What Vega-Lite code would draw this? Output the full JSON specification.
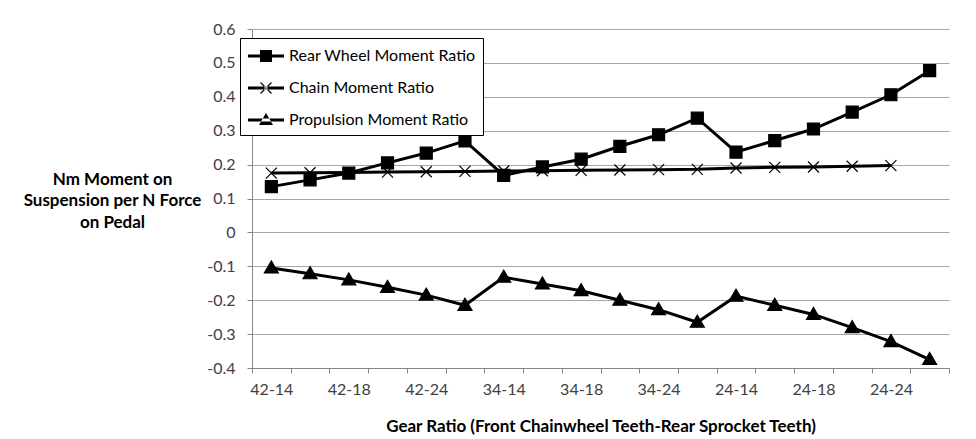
{
  "$schema": "https://vega.github.io/schema/vega-lite/v6.json",
  "width": 697,
  "height": 339,
  "autosize": {"type": "none"},
  "padding": {"left": 252, "top": 29, "right": 27, "bottom": 71},
  "background": "white",
  "config": {
    "font": "Lato",
    "view": {"stroke": null},
    "axis": {"labelFont": "Lato", "labelFontSize": 16, "labelColor": "#404040", "titleFont": "Lato", "titleFontSize": 17, "titleFontWeight": "bold", "titleColor": "#000000", "domainColor": "#868686", "tickColor": "#868686", "tickSize": 5, "gridColor": "#a6a6a6"}
  },
  "data": {"values": [
    {"gear": "42-14", "series": "Rear Wheel Moment Ratio", "value": 0.135},
    {"gear": "42-16", "series": "Rear Wheel Moment Ratio", "value": 0.155},
    {"gear": "42-18", "series": "Rear Wheel Moment Ratio", "value": 0.175},
    {"gear": "42-21", "series": "Rear Wheel Moment Ratio", "value": 0.205},
    {"gear": "42-24", "series": "Rear Wheel Moment Ratio", "value": 0.234},
    {"gear": "42-28", "series": "Rear Wheel Moment Ratio", "value": 0.270},
    {"gear": "34-14", "series": "Rear Wheel Moment Ratio", "value": 0.168},
    {"gear": "34-16", "series": "Rear Wheel Moment Ratio", "value": 0.193},
    {"gear": "34-18", "series": "Rear Wheel Moment Ratio", "value": 0.216},
    {"gear": "34-21", "series": "Rear Wheel Moment Ratio", "value": 0.254},
    {"gear": "34-24", "series": "Rear Wheel Moment Ratio", "value": 0.288},
    {"gear": "34-28", "series": "Rear Wheel Moment Ratio", "value": 0.337},
    {"gear": "24-14", "series": "Rear Wheel Moment Ratio", "value": 0.237},
    {"gear": "24-16", "series": "Rear Wheel Moment Ratio", "value": 0.271},
    {"gear": "24-18", "series": "Rear Wheel Moment Ratio", "value": 0.305},
    {"gear": "24-21", "series": "Rear Wheel Moment Ratio", "value": 0.355},
    {"gear": "24-24", "series": "Rear Wheel Moment Ratio", "value": 0.406},
    {"gear": "24-28", "series": "Rear Wheel Moment Ratio", "value": 0.477},
    {"gear": "42-14", "series": "Chain Moment Ratio", "value": 0.175},
    {"gear": "42-16", "series": "Chain Moment Ratio", "value": 0.176},
    {"gear": "42-18", "series": "Chain Moment Ratio", "value": 0.177},
    {"gear": "42-21", "series": "Chain Moment Ratio", "value": 0.178},
    {"gear": "42-24", "series": "Chain Moment Ratio", "value": 0.179},
    {"gear": "42-28", "series": "Chain Moment Ratio", "value": 0.180},
    {"gear": "34-14", "series": "Chain Moment Ratio", "value": 0.181},
    {"gear": "34-16", "series": "Chain Moment Ratio", "value": 0.182},
    {"gear": "34-18", "series": "Chain Moment Ratio", "value": 0.183},
    {"gear": "34-21", "series": "Chain Moment Ratio", "value": 0.184},
    {"gear": "34-24", "series": "Chain Moment Ratio", "value": 0.185},
    {"gear": "34-28", "series": "Chain Moment Ratio", "value": 0.186},
    {"gear": "24-14", "series": "Chain Moment Ratio", "value": 0.190},
    {"gear": "24-16", "series": "Chain Moment Ratio", "value": 0.192},
    {"gear": "24-18", "series": "Chain Moment Ratio", "value": 0.193},
    {"gear": "24-21", "series": "Chain Moment Ratio", "value": 0.195},
    {"gear": "24-24", "series": "Chain Moment Ratio", "value": 0.197},
    {"gear": "42-14", "series": "Propulsion Moment Ratio", "value": -0.105},
    {"gear": "42-16", "series": "Propulsion Moment Ratio", "value": -0.122},
    {"gear": "42-18", "series": "Propulsion Moment Ratio", "value": -0.140},
    {"gear": "42-21", "series": "Propulsion Moment Ratio", "value": -0.162},
    {"gear": "42-24", "series": "Propulsion Moment Ratio", "value": -0.185},
    {"gear": "42-28", "series": "Propulsion Moment Ratio", "value": -0.215},
    {"gear": "34-14", "series": "Propulsion Moment Ratio", "value": -0.132},
    {"gear": "34-16", "series": "Propulsion Moment Ratio", "value": -0.152},
    {"gear": "34-18", "series": "Propulsion Moment Ratio", "value": -0.172},
    {"gear": "34-21", "series": "Propulsion Moment Ratio", "value": -0.200},
    {"gear": "34-24", "series": "Propulsion Moment Ratio", "value": -0.228},
    {"gear": "34-28", "series": "Propulsion Moment Ratio", "value": -0.265},
    {"gear": "24-14", "series": "Propulsion Moment Ratio", "value": -0.188},
    {"gear": "24-16", "series": "Propulsion Moment Ratio", "value": -0.215},
    {"gear": "24-18", "series": "Propulsion Moment Ratio", "value": -0.242},
    {"gear": "24-21", "series": "Propulsion Moment Ratio", "value": -0.281},
    {"gear": "24-24", "series": "Propulsion Moment Ratio", "value": -0.322},
    {"gear": "24-28", "series": "Propulsion Moment Ratio", "value": -0.375}
  ]},
  "encoding": {
    "x": {
      "field": "gear", "type": "nominal",
      "sort": ["42-14","42-16","42-18","42-21","42-24","42-28","34-14","34-16","34-18","34-21","34-24","34-28","24-14","24-16","24-18","24-21","24-24","24-28"],
      "scale": {"type": "band", "paddingInner": 0, "paddingOuter": 0},
      "axis": {
        "title": "Gear Ratio (Front Chainwheel Teeth-Rear Sprocket Teeth)",
        "labelAngle": 0, "tickBand": "extent", "labelPadding": 8, "titlePadding": 21,
        "labelExpr": "indexof(['42-14','42-18','42-24','34-14','34-18','34-24','24-14','24-18','24-24'], datum.value) >= 0 ? datum.label : ''"
      }
    },
    "y": {
      "field": "value", "type": "quantitative",
      "scale": {"domain": [-0.4, 0.6], "nice": false, "zero": false},
      "axis": {
        "values": [-0.4, -0.3, -0.2, -0.1, 0, 0.1, 0.2, 0.3, 0.4, 0.5, 0.6],
        "labelExpr": "datum.value < -0.0001 ? '-' + format(-datum.value, '.1f') : (abs(datum.value) < 0.0001 ? '0' : format(datum.value, '.1f'))",
        "labelPadding": 12, "grid": true,
        "title": ["Nm Moment on", "Suspension per N Force", "on Pedal"],
        "titleAngle": 0, "titleAlign": "center", "titleBaseline": "middle",
        "titleX": -140, "titleY": 150, "titleLineHeight": 21.5
      }
    }
  },
  "layer": [
    {
      "mark": {"type": "line", "color": "black", "strokeWidth": 3},
      "encoding": {"detail": {"field": "series"}}
    },
    {
      "mark": {"type": "point", "filled": true, "color": "black", "stroke": "black", "strokeWidth": 1.2, "opacity": 1, "size": 400},
      "encoding": {
        "shape": {
          "field": "series", "type": "nominal",
          "scale": {"domain": ["Rear Wheel Moment Ratio", "Chain Moment Ratio", "Propulsion Moment Ratio"],
            "range": ["M-0.6,-0.6H0.6V0.6H-0.6Z", "M-0.55,-0.55L0.55,0.55M-0.55,0.55L0.55,-0.55", "M-0.7,0.5L0.7,0.5L0,-0.7Z"]},
          "legend": null
        }
      }
    },
    {
      "mark": {"type": "point", "filled": true, "color": "black", "opacity": 0, "size": 400},
      "encoding": {
        "shape": {
          "field": "series", "type": "nominal",
          "scale": {"domain": ["Rear Wheel Moment Ratio", "Chain Moment Ratio", "Propulsion Moment Ratio"],
            "range": [
              "M-1,-0.15H2.6V0.15H-1Z M0.2,-0.6H1.4V0.6H0.2Z",
              "M-1,-0.15H2.6V0.15H-1Z M0.208,-0.508L1.308,0.592L1.392,0.508L0.292,-0.592Z M0.292,0.592L1.392,-0.508L1.308,-0.592L0.208,0.508Z",
              "M-1,-0.15H2.6V0.15H-1Z M0.1,0.5L1.5,0.5L0.8,-0.7Z"]},
          "legend": {
            "title": null, "orient": "none", "legendX": -12, "legendY": 9,
            "symbolSize": 400, "symbolOpacity": 1, "symbolFillColor": "black",
            "labelFont": "Lato", "labelFontSize": 16, "labelColor": "#000000", "labelOffset": 20, "labelLimit": 300,
            "rowPadding": 12, "padding": 7, "strokeColor": "black", "fillColor": "white"
          }
        }
      }
    }
  ],
  "resolve": {"scale": {"shape": "independent"}, "legend": {"shape": "independent"}}
}
